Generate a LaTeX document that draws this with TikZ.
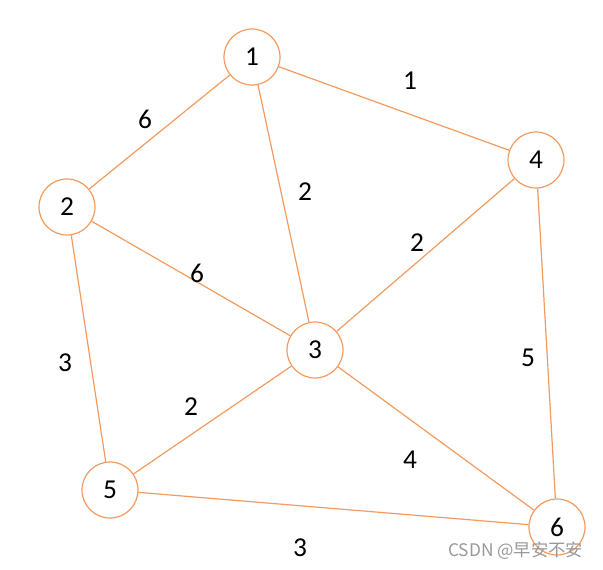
\documentclass[tikz,border=0pt]{standalone}
\usepackage{fontspec}
\setmainfont{Carlito}
\newfontfamily\cjk{Noto Sans CJK SC}
\definecolor{edgeor}{HTML}{F39A5E}
\begin{document}
\begin{tikzpicture}[x=0.75pt,y=-0.75pt,
  vert/.style={circle,draw=edgeor,line width=0.9pt,fill=white,minimum size=42pt,inner sep=0pt,font=\fontsize{20.5}{24}\selectfont},
  edge/.style={draw=edgeor,line width=0.9pt},
  wlabel/.style={font=\fontsize{20.5}{24}\selectfont,text=black}]
\useasboundingbox (0,0) rectangle (603,569);
\node[vert] (n1) at (252,57) {1};
\node[vert] (n2) at (67,207) {2};
\node[vert] (n3) at (315,350) {3};
\node[vert] (n4) at (536,160) {4};
\node[vert] (n5) at (110,490) {5};
\node[vert] (n6) at (557,527) {6};
\draw[edge] (n1) -- (n2);
\draw[edge] (n1) -- (n4);
\draw[edge] (n1) -- (n3);
\draw[edge] (n2) -- (n3);
\draw[edge] (n2) -- (n5);
\draw[edge] (n3) -- (n4);
\draw[edge] (n3) -- (n5);
\draw[edge] (n3) -- (n6);
\draw[edge] (n4) -- (n6);
\draw[edge] (n5) -- (n6);
\node[wlabel] (l14) at (410,81) {1};
\node[wlabel] (l12) at (145,119) {6};
\node[wlabel] (l13) at (305,192) {2};
\node[wlabel] (l34) at (417,243) {2};
\node[wlabel] (l23) at (197,273) {6};
\node[wlabel] (l25) at (65,363) {3};
\node[wlabel] (l46) at (528,358) {5};
\node[wlabel] (l35) at (191,407) {2};
\node[wlabel] (l36) at (410,460) {4};
\node[wlabel] (l56) at (300,548) {3};
\node[font=\cjk\fontsize{13}{15}\selectfont,text=black!40,anchor=east] (wm) at (588,551) {CSDN @早安不安};
\end{tikzpicture}
\end{document}
